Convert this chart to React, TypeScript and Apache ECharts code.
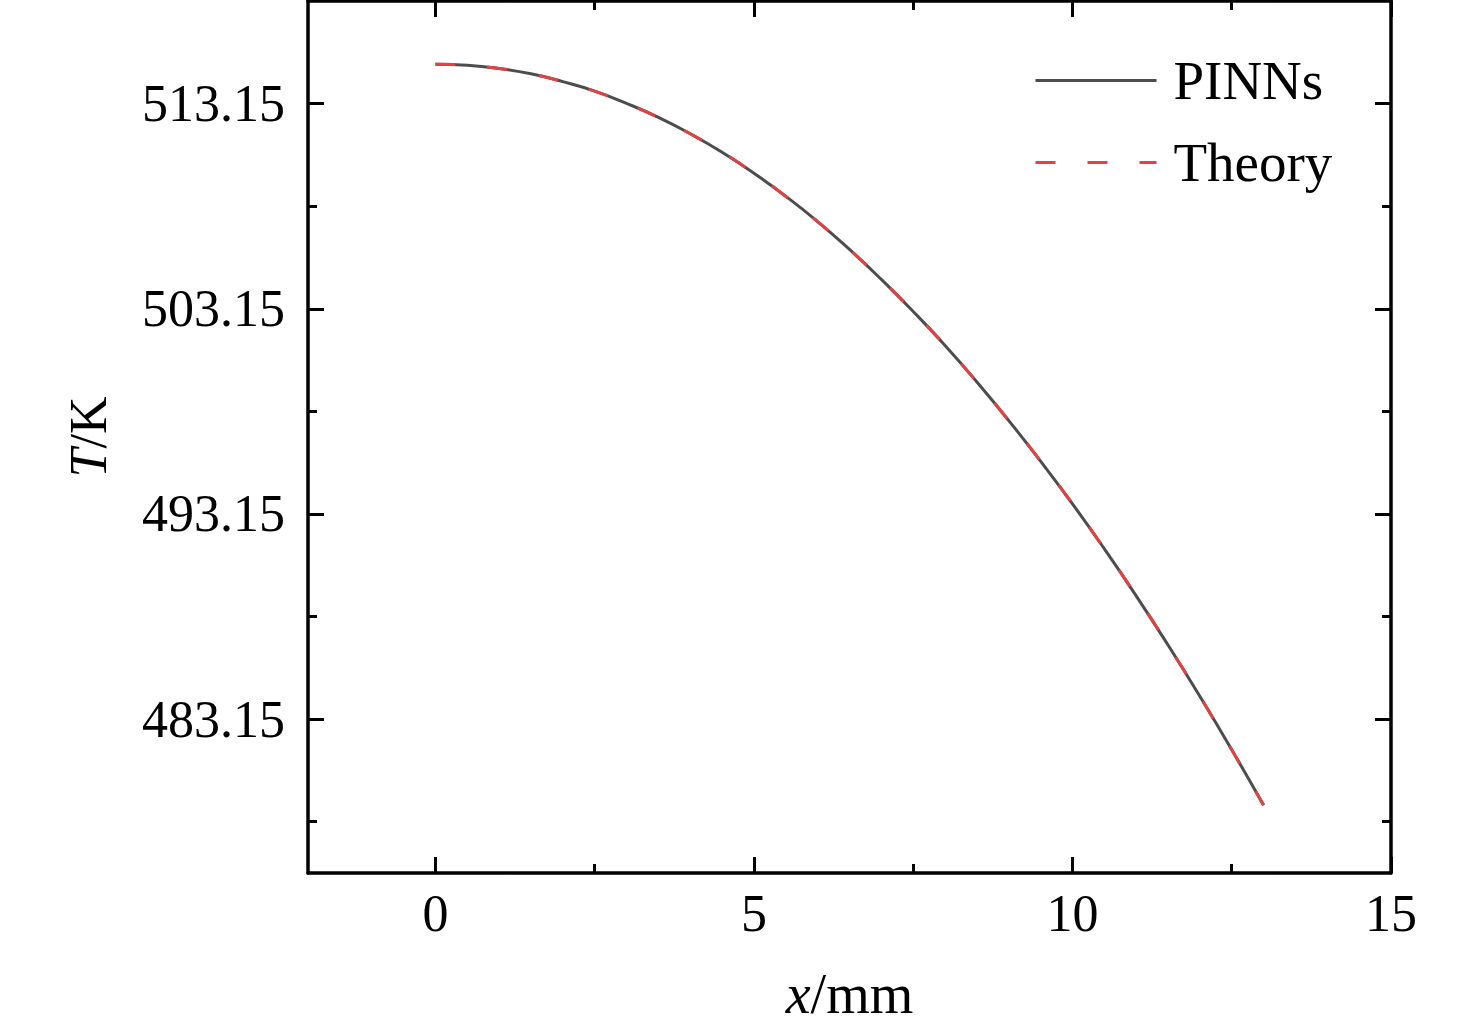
import React, { useEffect, useRef } from "react";
import * as echarts from "echarts";

const xValues = [0, 0.5, 1, 1.5, 2, 2.5, 3, 3.5, 4, 4.5, 5, 5.5, 6, 6.5, 7, 7.5, 8, 8.5, 9, 9.5, 10, 10.5, 11, 11.5, 12, 12.5, 13];
const pinnsT = [515.07, 515.02, 514.86, 514.6, 514.22, 513.76, 513.16, 512.48, 511.68, 510.78, 509.76, 508.63, 507.4, 506.04, 504.58, 503.02, 501.36, 499.58, 497.7, 495.72, 493.64, 491.45, 489.16, 486.76, 484.26, 481.66, 478.95];
const theoryT = [515.07, 515.02, 514.86, 514.6, 514.22, 513.76, 513.16, 512.48, 511.68, 510.78, 509.76, 508.63, 507.4, 506.04, 504.58, 503.02, 501.36, 499.58, 497.7, 495.72, 493.64, 491.45, 489.16, 486.76, 484.26, 481.66, 478.95];

const xMajorTicks = [0, 5, 10, 15];
const xMinorTicks = [2.5, 7.5, 12.5];
const yMajorTicks = [483.15, 493.15, 503.15, 513.15];
const yMinorTicks = [478.15, 488.15, 498.15, 508.15];

const FONT = "'Liberation Serif', 'Times New Roman', serif";

export default function App() {
  const ref = useRef<HTMLDivElement>(null);
  useEffect(() => {
    if (!ref.current) return;
    const chart = echarts.init(ref.current, undefined, { renderer: "svg" });
    const line = { show: true, onZero: false, lineStyle: { color: "#000", width: 3.5 } };
    const noLine = { show: false, onZero: false };
    const xBase = { type: "value", min: -2, max: 15, splitLine: { show: false } };
    const yBase = { type: "value", min: 475.65, max: 518.15, splitLine: { show: false } };
    const tick = (vals: number[], len: number) => ({
      show: true,
      inside: true,
      length: len,
      customValues: vals,
      lineStyle: { color: "#000", width: 3 },
    });
    const labelStyle = { color: "#000", fontFamily: FONT, fontSize: 52, lineHeight: 52 };
    const nameStyle = { color: "#000", fontFamily: FONT, fontSize: 56, lineHeight: 56 };
    const legendStyle = { color: "#000", fontFamily: FONT, fontSize: 55, lineHeight: 55 };
    const option: any = {
      animation: false,
      grid: { left: 308, right: 85, top: 1, bottom: 159, containLabel: false },
      legend: {
        left: 1034,
        top: 53,
        padding: 0,
        orient: "vertical",
        itemWidth: 121,
        itemHeight: 20,
        itemGap: 27,
        itemStyle: { opacity: 0 },
        lineStyle: { width: 3 },
        textStyle: { ...legendStyle, padding: [0, 0, 0, 12] },
        data: ["PINNs", "Theory"],
      },
      xAxis: [
        {
          ...xBase,
          position: "bottom",
          axisLine: line,
          axisTick: tick(xMajorTicks, 16),
          axisLabel: { ...labelStyle, customValues: xMajorTicks, margin: 14 },
          name: "{i|x}/mm",
          nameLocation: "middle",
          nameGap: 93,
          nameTextStyle: {
            ...nameStyle,
            rich: { i: { ...nameStyle, fontStyle: "italic" } },
          },
        },
        { ...xBase, position: "bottom", axisLine: noLine, axisTick: tick(xMinorTicks, 9), axisLabel: { show: false } },
        { ...xBase, position: "top", axisLine: line, axisTick: tick(xMajorTicks, 16), axisLabel: { show: false } },
        { ...xBase, position: "top", axisLine: noLine, axisTick: tick(xMinorTicks, 9), axisLabel: { show: false } },
      ],
      yAxis: [
        {
          ...yBase,
          position: "left",
          axisLine: line,
          axisTick: tick(yMajorTicks, 16),
          axisLabel: {
            ...labelStyle,
            customValues: yMajorTicks,
            margin: 23,
            formatter: (v: number) => v.toFixed(2),
          },
          name: "{i|T}/K",
          nameLocation: "middle",
          nameRotate: 90,
          nameGap: 194,
          nameTextStyle: {
            ...labelStyle,
            rich: { i: { ...labelStyle, fontStyle: "italic" } },
          },
        },
        { ...yBase, position: "left", axisLine: noLine, axisTick: tick(yMinorTicks, 9), axisLabel: { show: false } },
        { ...yBase, position: "right", axisLine: line, axisTick: tick(yMajorTicks, 16), axisLabel: { show: false } },
        { ...yBase, position: "right", axisLine: noLine, axisTick: tick(yMinorTicks, 9), axisLabel: { show: false } },
      ],
      series: [
        {
          name: "PINNs",
          type: "line",
          xAxisIndex: 0,
          yAxisIndex: 0,
          symbol: "none",
          smooth: true,
          z: 2,
          data: xValues.map((x, i) => [x, pinnsT[i]]),
          lineStyle: { color: "#4d4d4d", width: 3 },
          itemStyle: { color: "#4d4d4d" },
        },
        {
          name: "Theory",
          type: "line",
          xAxisIndex: 0,
          yAxisIndex: 0,
          symbol: "none",
          smooth: true,
          z: 3,
          data: xValues.map((x, i) => [x, theoryT[i]]),
          lineStyle: { color: "#e04343", width: 3, type: [20, 32] },
          itemStyle: { color: "#e04343" },
        },
      ],
    };
    chart.setOption(option);
    return () => chart.dispose();
  }, []);
  return (
    <div
      ref={ref}
      style={{ position: "fixed", left: 0, top: 0, width: 1476, height: 1032, background: "#fff" }}
    />
  );
}
